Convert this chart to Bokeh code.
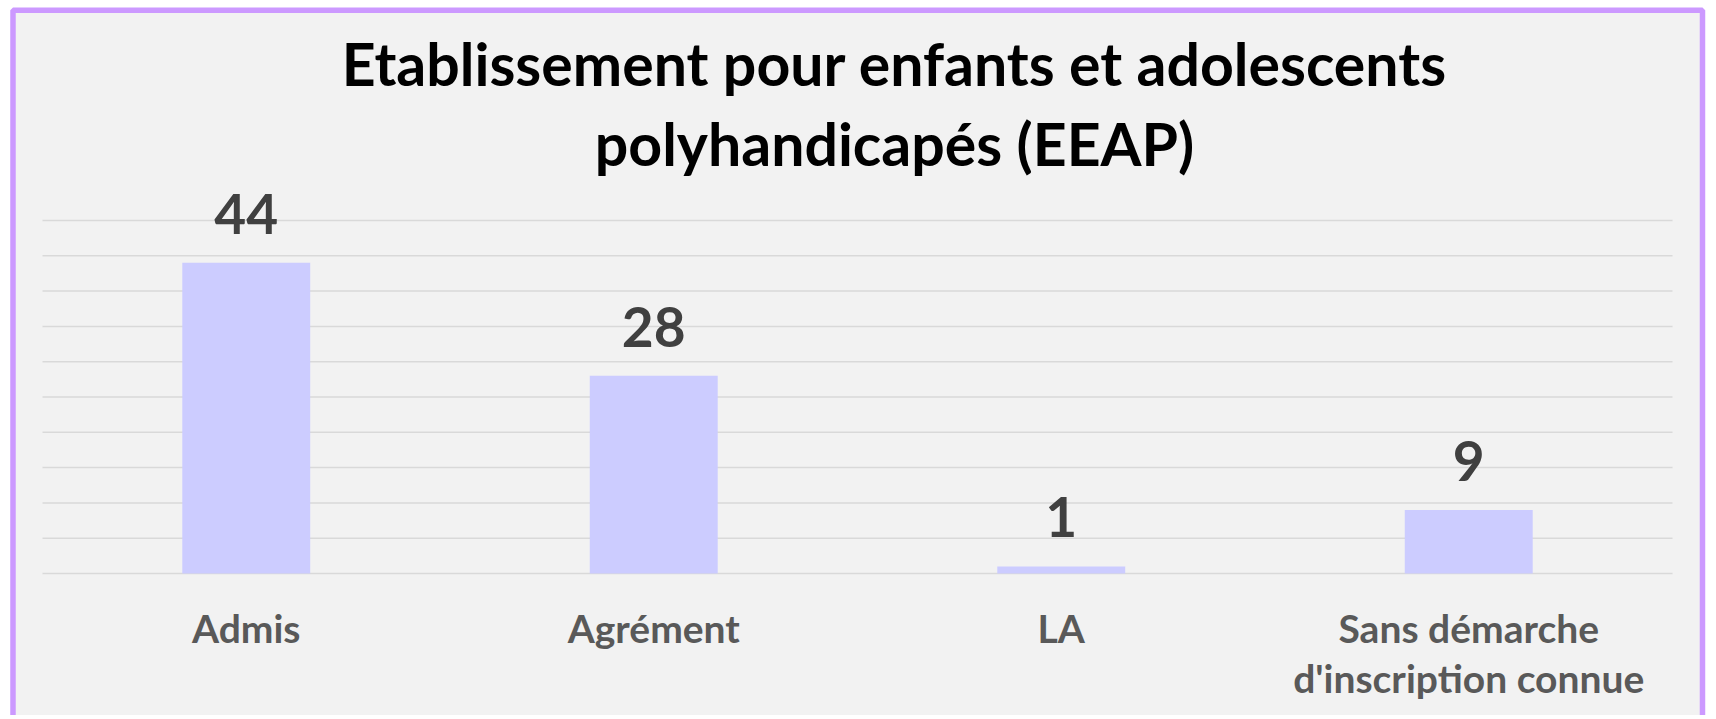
from bokeh.plotting import figure
from bokeh.models import ColumnDataSource, LabelSet, BoxAnnotation, FactorRange, Range1d
from bokeh.embed import file_html
from bokeh.resources import INLINE
from bokeh.core.properties import value

# ---- data ----
title_lines = ["Etablissement pour enfants et adolescents", "polyhandicapés (EEAP)"]
categories = ["Admis", "Agrément", "LA", "Sans démarche\nd'inscription connue"]
counts = [44, 28, 1, 9]
count_labels = [str(c) for c in counts]
grid_ticks = [0, 5, 10, 15, 20, 25, 30, 35, 40, 45, 50]

FONT = "Lato"
BG = "#F2F2F2"

first_lines = [c.split("\n")[0] for c in categories]
second_lines = [c.split("\n")[1] if "\n" in c else "" for c in categories]

source = ColumnDataSource(dict(cat=categories, n=counts, lab=count_labels,
                               l1=first_lines, l2=second_lines))
grid_src = ColumnDataSource(dict(t=grid_ticks))

W, H = 1714, 715
p = figure(x_range=FactorRange(*categories, range_padding=0.10307, range_padding_units="absolute"),
           y_range=Range1d(-20.113, 81.161),
           width=W, height=H, output_backend="svg", toolbar_location=None,
           title=None, x_axis_location=None, y_axis_location=None,
           min_border=0, min_border_left=0, min_border_right=0,
           min_border_top=0, min_border_bottom=0)

p.background_fill_color = "white"
p.border_fill_color = "white"
p.outline_line_color = None
p.xgrid.visible = False
p.ygrid.visible = False

# chart panel (grey fill + purple frame, bottom edge outside the view)
panel = BoxAnnotation(left=-0.0724, right=4.0736, top=79.79, bottom=-40,
                      fill_color=BG, fill_alpha=1.0, line_color="#CC99FF",
                      line_alpha=1.0, line_width=5.5, level="underlay")
p.add_layout(panel)

# horizontal gridlines across the category span
p.segment(x0=0, x1=len(categories), y0="t", y1="t", source=grid_src,
          line_color="#D9D9D9", line_width=1.5)

p.vbar(x="cat", top="n", bottom=0, width=0.314, source=source,
       fill_color="#CCCCFF", line_color=None)

# value labels
p.add_layout(LabelSet(x="cat", y="n", text="lab", source=source, y_offset=29,
                      text_align="center", text_baseline="alphabetic",
                      text_font=value(FONT), text_font_style="bold",
                      text_font_size="55px", text_color="#404040"))

# category labels under the baseline (one LabelSet per text line)
for col, off in (("l1", -69), ("l2", -119)):
    p.add_layout(LabelSet(x="cat", y=0, text=col, source=source, y_offset=off,
                          text_align="center", text_baseline="alphabetic",
                          text_font=value(FONT), text_font_style="bold",
                          text_font_size="39px", text_color="#595959"))

# two-line title
for txt, yy in zip(title_lines, [68.98, 57.79]):
    tsrc = ColumnDataSource(dict(t=[txt]))
    p.add_layout(LabelSet(x=len(categories) / 2, y=yy, text="t", source=tsrc, x_offset=37,
                          text_align="center", text_baseline="alphabetic",
                          text_font=value(FONT), text_font_style="bold",
                          text_font_size="59px", text_color="#000000"))

open("out.html", "w").write(file_html(p, INLINE, title="EEAP"))
